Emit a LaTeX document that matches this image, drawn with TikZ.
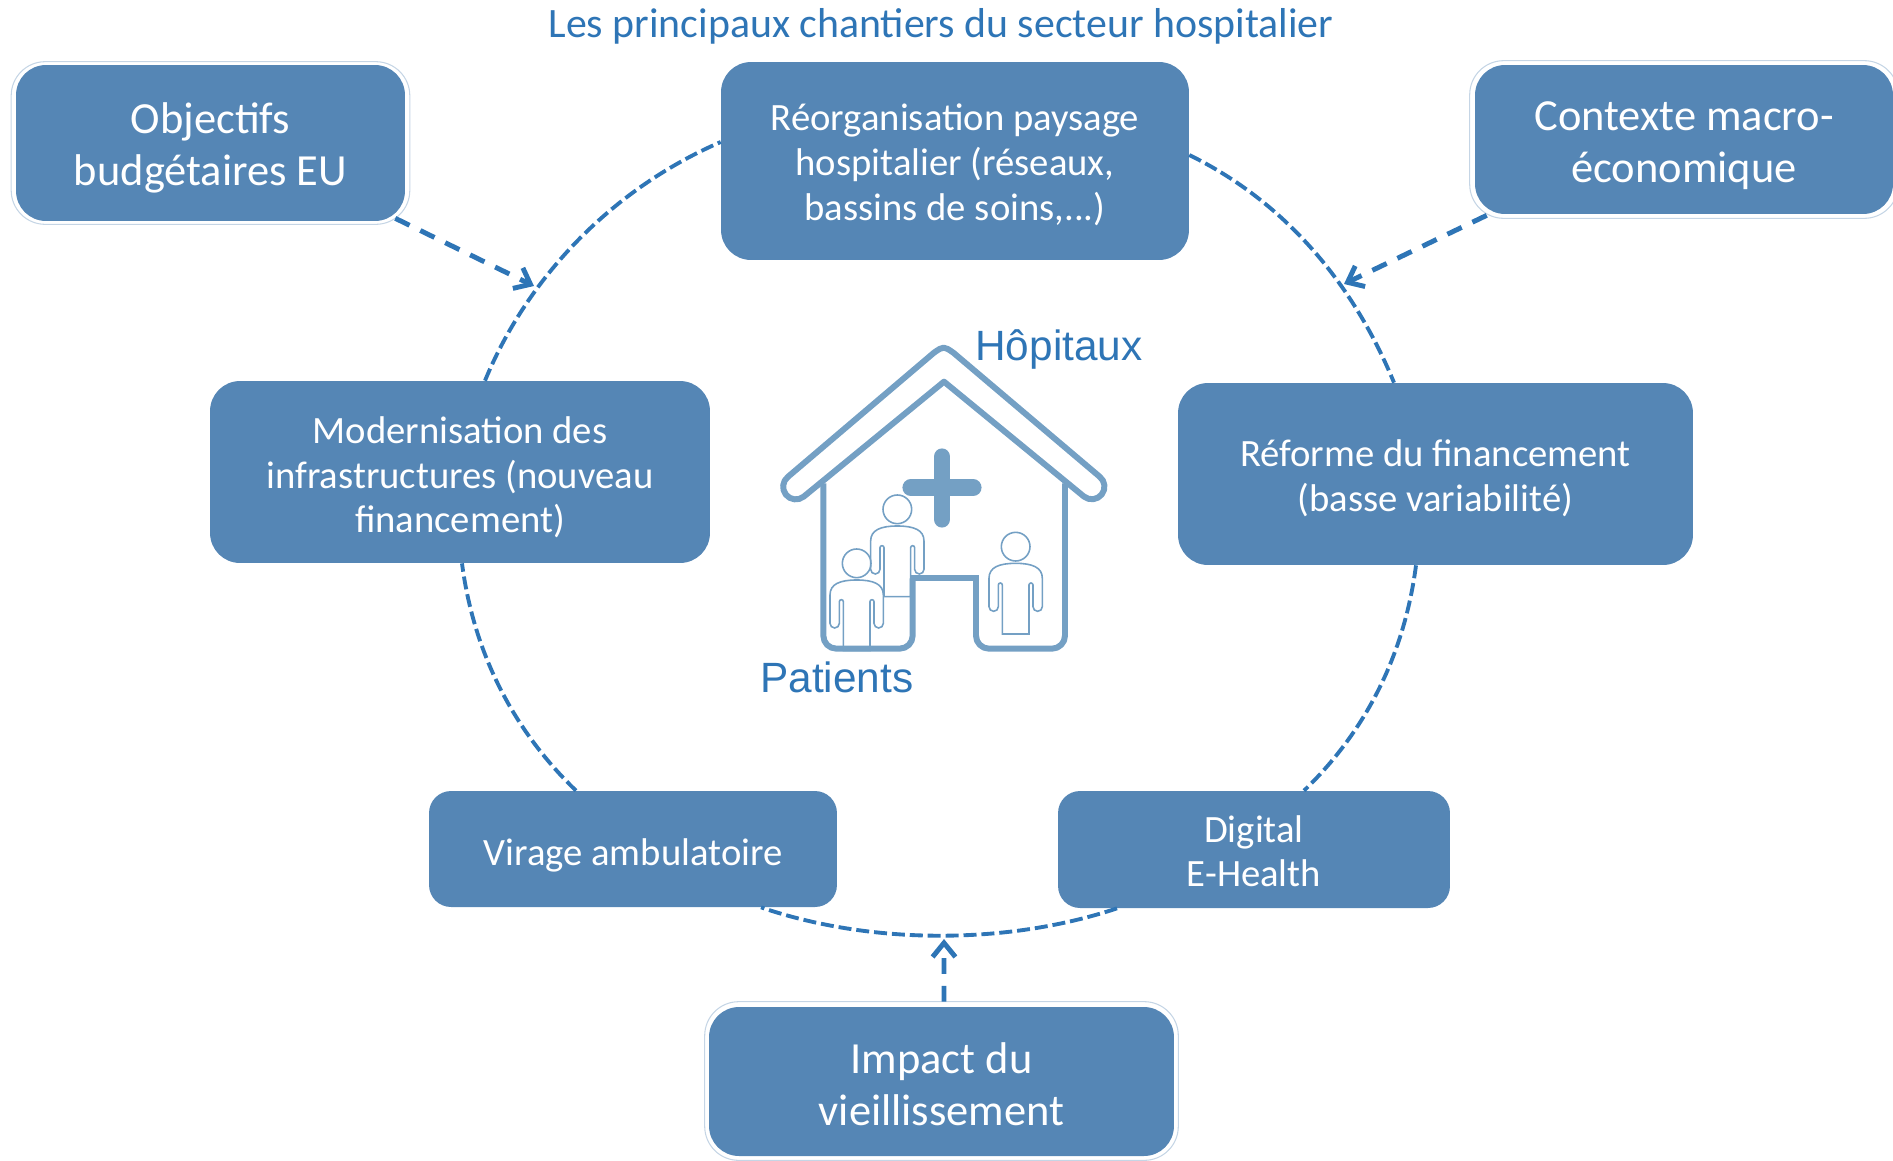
\documentclass[tikz,border=0pt]{standalone}
\usepackage{fontspec}
\setmainfont{Carlito}
\newfontfamily\arialfont{Liberation Sans}
\usetikzlibrary{arrows.meta,calc}
\definecolor{boxblue}{HTML}{5586B5}
\definecolor{linkblue}{HTML}{2E75B6}
\definecolor{housecol}{HTML}{74A0C4}
\definecolor{halocol}{HTML}{C5D5E5}
\newcommand{\lowered}[2]{\raisebox{-#1}[0pt][0pt]{\makebox[0pt]{\parbox{10cm}{\centering #2}}}}
\tikzset{
  box/.style={fill=boxblue,draw=none,rounded corners=0.6cm,text=white,inner sep=0pt},
  bigbox/.style={box,font=\fontsize{25.3}{29.5}\selectfont},
  midbox/.style={box,font=\fontsize{22}{25.5}\selectfont},
  halo/.style={draw=halocol,line width=0.6pt,rounded corners=0.68cm},
  ring/.style={draw=linkblue,line width=2.2pt,dash pattern=on 7.4pt off 2.8pt},
  feed/.style={draw=linkblue,line width=2.8pt,dash pattern=on 9pt off 6.8pt,
    -{Straight Barb[length=8pt,width=13pt,line width=2.8pt]}},
  heading/.style={text=linkblue,font=\arialfont\fontsize{24.1}{28}\selectfont,anchor=base west,inner sep=0pt},
  houseline/.style={draw=housecol,line width=3.4pt,line join=round},
  patientline/.style={draw=housecol,line width=0.9pt},
  patient/.pic={
    \draw[patientline] (0,0) circle[radius=43];
    \draw[patientline] (-40,262) -- (-40,115) arc[start angle=0,end angle=-180,radius=6]
      -- (-52,180) arc[start angle=0,end angle=180,radius=14]
      -- (-80,95) .. controls (-80,62) and (-50,50) .. (0,50)
      .. controls (50,50) and (80,62) .. (80,95)
      -- (80,180) arc[start angle=0,end angle=180,radius=14]
      -- (52,115) arc[start angle=0,end angle=-180,radius=6]
      -- (40,262) -- cycle;
  }
}
\begin{document}
\begin{tikzpicture}[x=0.02cm,y=-0.02cm]
\useasboundingbox (0,0) rectangle (1893,1160);

\node[text=linkblue,font=\fontsize{23.8}{28}\selectfont,inner sep=0pt] (title) at (941,26) {Les principaux chantiers du secteur hospitalier};

% boxes
\node[bigbox,minimum width=7.78cm,minimum height=3.12cm] (objectifs) at (210.5,143) {\lowered{9pt}{Objectifs\\budgétaires EU}};
\node[bigbox,minimum width=8.36cm,minimum height=2.98cm] (contexte) at (1684,139.5) {\lowered{9.7pt}{Contexte macro-\\économique}};
\node[bigbox,minimum width=9.3cm,minimum height=2.98cm] (impact) at (941.5,1081.5) {\lowered{7.7pt}{Impact du\\vieillissement}};
\node[midbox,minimum width=9.36cm,minimum height=3.96cm] (reorg) at (955,161) {\lowered{7.5pt}{Réorganisation paysage\\hospitalier (réseaux,\\bassins de soins,...)}};
\node[midbox,minimum width=10cm,minimum height=3.64cm] (modern) at (460,472) {\lowered{8.2pt}{Modernisation des\\infrastructures (nouveau\\financement)}};
\node[midbox,minimum width=10.3cm,minimum height=3.64cm] (reforme) at (1435.5,474) {\lowered{7.5pt}{Réforme du financement\\(basse variabilité)}};
\node[midbox,rounded corners=0.44cm,minimum width=8.16cm,minimum height=2.32cm] (virage) at (633,849) {\lowered{8.9pt}{Virage ambulatoire}};
\node[midbox,rounded corners=0.44cm,minimum width=7.84cm,minimum height=2.34cm] (digital) at (1254,849.5) {\lowered{6.2pt}{Digital\\E-Health}};

% thin outlines round the three outer boxes
\draw[halo] ([shift={(-0.09cm,0.06cm)}]objectifs.north west) rectangle ([shift={(0.09cm,-0.06cm)}]objectifs.south east);
\draw[halo] ([shift={(-0.1cm,0.08cm)}]contexte.north west) rectangle ([shift={(0.1cm,-0.08cm)}]contexte.south east);
\draw[halo] ([shift={(-0.08cm,0.1cm)}]impact.north west) rectangle ([shift={(0.08cm,-0.08cm)}]impact.south east);

% ring
\draw[ring] ([xshift=0.5cm]modern.north) .. controls (526,281) and (608,191) .. ([yshift=0.38cm]reorg.west);
\draw[ring] ([yshift=0.12cm]reorg.east) .. controls (1289,204) and (1355,288) .. ([xshift=-0.83cm]reforme.north);
\draw[ring] ([xshift=-0.39cm]reforme.south) .. controls (1405,649) and (1370,727) .. ([xshift=1cm]digital.north);
\draw[ring] ([xshift=-2.74cm]digital.south) .. controls (1007,945) and (871,945) .. ([xshift=2.56cm]virage.south);
\draw[ring] ([xshift=-1.14cm]virage.north) .. controls (510,727) and (473,648) .. ([xshift=0.04cm]modern.south);

% feeders
\coordinate (ringnw) at (534,286);
\coordinate (ringne) at (1344,284);
\coordinate (ringbottom) at (944,939);
\draw[feed] ([shift={(-0.2cm,0.06cm)}]objectifs.south east) -- (ringnw);
\draw[feed] ([shift={(0.24cm,-0.02cm)}]contexte.south west) -- (ringne);
\draw[feed] ([shift={(0.05cm,0.1cm)}]impact.north) -- (ringbottom);

% house
\begin{scope}[shift={(740,310)},x=0.02cm/3,y=-0.02cm/3]
  \draw[houseline] (1079,500) arc[start angle=-51.6,end angle=128.4,radius=38]
    -- (612,215) -- (191,560) arc[start angle=51.6,end angle=231.6,radius=38]
    -- (582,128) .. controls (611,108) .. (640,128) -- cycle;
  \draw[houseline,rounded corners=0.26cm] (250,520) -- (250,1016) -- (518,1016) -- (518,805);
  \draw[houseline,line cap=rect] (518,805) -- (708,805);
  \draw[houseline,rounded corners=0.26cm] (708,805) -- (708,1016) -- (975,1016) -- (975,520);
  \draw[draw=housecol,line width=9.4pt,line cap=round] (606,440) -- (606,628);
  \draw[draw=housecol,line width=9.4pt,line cap=round] (512,533) -- (700,533);
  \pic at (827,710) {patient};
  \pic at (472,598) {patient};
  \pic at (350,760) {patient};
\end{scope}

\node[heading] (hopitaux) at (975,360) {Hôpitaux};
\node[heading] (patients) at (760,692) {Patients};
\end{tikzpicture}
\end{document}
